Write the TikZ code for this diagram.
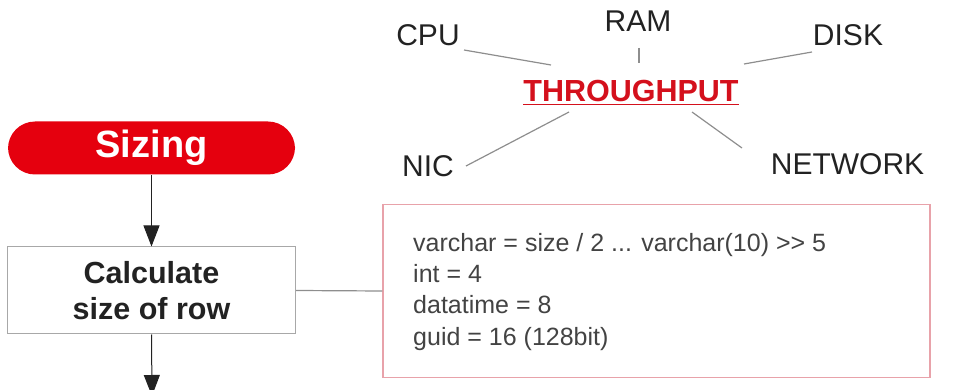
\documentclass[tikz,border=0pt]{standalone}
\usepackage{fontspec}
\setmainfont{Liberation Sans}
\usetikzlibrary{arrows.meta}
\definecolor{pillred}{HTML}{E5000E}
\definecolor{tpred}{HTML}{D4101C}
\definecolor{notepink}{HTML}{E8A2AA}
\definecolor{boxgray}{HTML}{A8A8A8}
\definecolor{linegray}{HTML}{8E8E8E}
\definecolor{txt}{HTML}{222222}
\tikzset{
  pill/.style={fill=pillred, draw=none, rounded corners=27pt, minimum width=287pt, minimum height=53pt, text=white, font=\fontsize{38}{44}\selectfont\bfseries},
  procbox/.style={draw=boxgray, line width=1pt, minimum width=288pt, minimum height=87pt, align=center, text=txt, font=\fontsize{30.5}{36}\selectfont\bfseries},
  notebox/.style={draw=notepink, line width=1.2pt, minimum width=547pt, minimum height=173pt},
  noteline/.style={anchor=base west, inner sep=0pt, text=txt!85, font=\fontsize{25}{30}\selectfont},
  word/.style={anchor=base, inner sep=0pt, text=txt, font=\fontsize{30}{36}\selectfont},
  tpword/.style={anchor=base, inner sep=0pt, text=tpred, font=\fontsize{30.5}{36}\selectfont\bfseries},
  flow/.style={line width=1pt, draw=txt, -{Triangle[width=16pt,length=21pt]}},
  spoke/.style={line width=1.2pt, draw=linegray},
}
\begin{document}
\begin{tikzpicture}[x=1pt,y=-1pt]
\useasboundingbox (0,0) rectangle (978,390);
% flowchart
\node[pill] (sizing) at (151.5,148) {Sizing};
\node[procbox] (calc) at (151.5,290.5) {Calculate\\size of row};
\coordinate (nextstep) at (152,396);
\draw[flow] (sizing.south) -- (calc.north);
\draw[flow] (calc.south) -- (nextstep);
% note
\node[notebox] (note) at (656.5,291) {};
\draw[spoke] (calc.east) -- (note.west);
\node[noteline] (l1) at (413,252) {varchar = size / 2 ... varchar(10) {>}{>} 5};
\node[noteline] (l2) at (413,283) {int = 4};
\node[noteline] (l3) at (413,314) {datatime = 8};
\node[noteline] (l4) at (413,345) {guid = 16 (128bit)};
% throughput
\node[tpword] (tp) at (631,102) {THROUGHPUT};
\draw[tpred, line width=1.6pt] ([yshift=-2.5pt]tp.base west) -- ([yshift=-2.5pt]tp.base east);
\node[word] (cpu) at (428,46) {CPU};
\node[word] (ram) at (638,32) {RAM};
\node[word] (disk) at (848,46) {DISK};
\node[word] (nic) at (428,177) {NIC};
\node[word] (net) at (847.5,175) {NETWORK};
\coordinate (cpuA) at (464,50);  \coordinate (cpuB) at (551,65);
\coordinate (ramA) at (639,48);  \coordinate (ramB) at (639,63);
\coordinate (diskA) at (812,52); \coordinate (diskB) at (744,64);
\coordinate (nicA) at (466,166); \coordinate (nicB) at (569,112);
\coordinate (netA) at (742,148); \coordinate (netB) at (692,112);
\draw[spoke] (cpuA) -- (cpuB);
\draw[spoke] (ramA) -- (ramB);
\draw[spoke] (diskA) -- (diskB);
\draw[spoke] (nicA) -- (nicB);
\draw[spoke] (netA) -- (netB);
\end{tikzpicture}
\end{document}
